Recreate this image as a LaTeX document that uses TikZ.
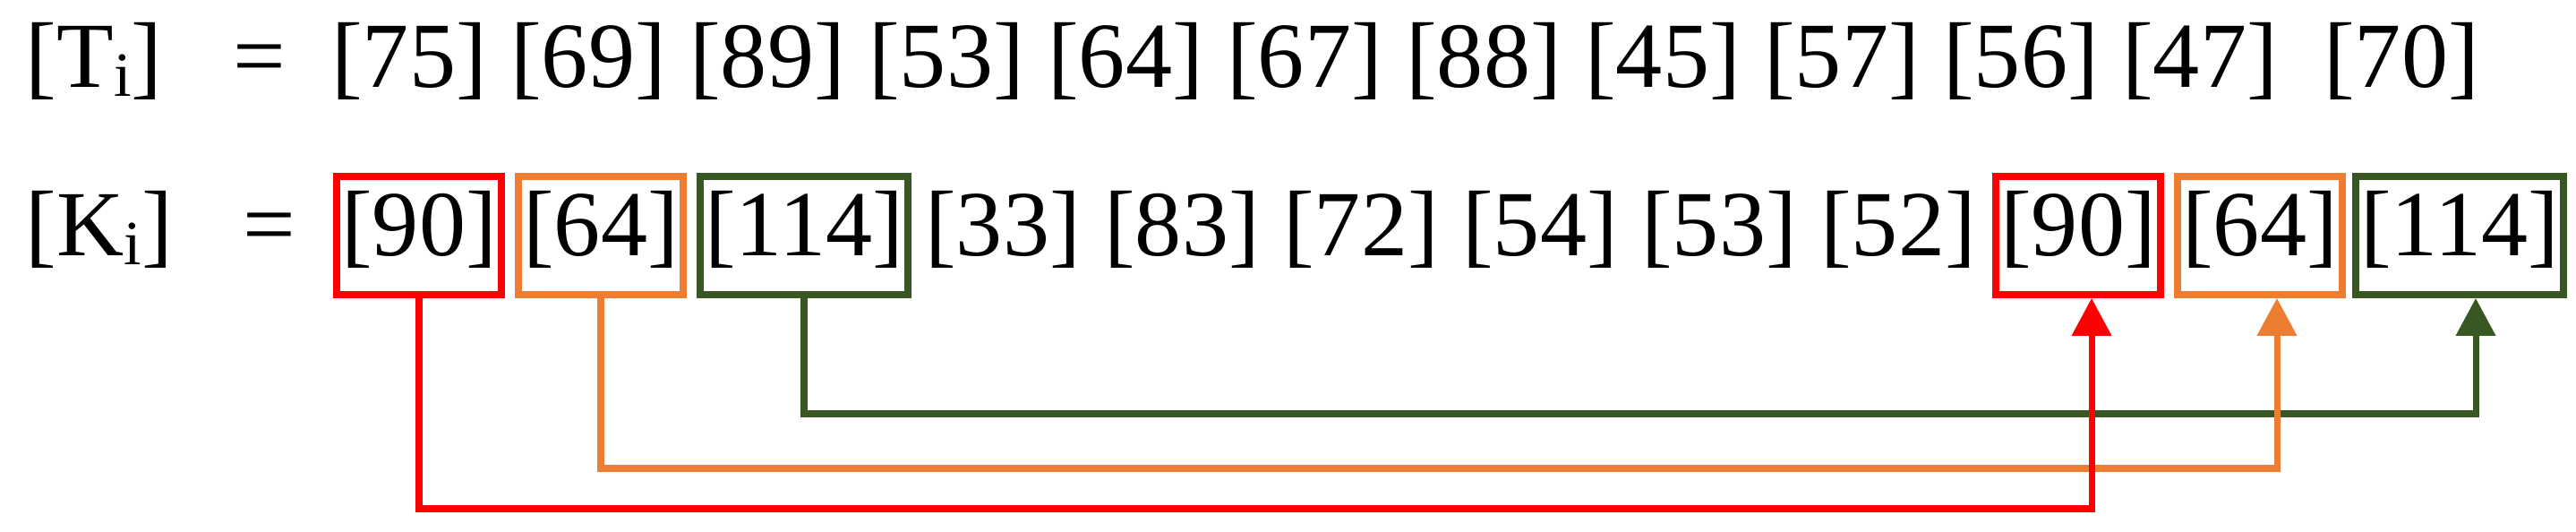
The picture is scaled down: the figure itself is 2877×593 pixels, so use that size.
\documentclass[tikz,border=0pt]{standalone}
\usepackage{fontspec}
\setmainfont{Liberation Serif}
\usetikzlibrary{arrows.meta}
\definecolor{kred}{HTML}{FF0000}
\definecolor{korange}{HTML}{ED7D31}
\definecolor{kgreen}{HTML}{385723}
\newcommand{\subi}{\raisebox{-0.1em}{\fontsize{20pt}{20pt}\selectfont i}}
\tikzset{
  val/.style={anchor=base, inner sep=0pt, font=\fontsize{29.6pt}{36pt}\selectfont},
  boxed/.style={val, draw=#1, line width=2.2pt, inner xsep=0.05cm, text height=0.88cm, text depth=0.44cm},
  link/.style={draw=#1, line width=2pt, -{Triangle[length=0.42cm,width=0.43cm]}}
}
\begin{document}
\begin{tikzpicture}[x=0.01cm, y=0.01cm]
\useasboundingbox (0,0) rectangle (2877,593);
% first row
\node[val] (tlab) at (105,496) {[T\subi]};
\node[val] (teq) at (290,496) {=};
\node[val] (t0) at (457,496) {[75]};
\node[val] (t1) at (657,496) {[69]};
\node[val] (t2) at (857,496) {[89]};
\node[val] (t3) at (1057,496) {[53]};
\node[val] (t4) at (1257,496) {[64]};
\node[val] (t5) at (1457,496) {[67]};
\node[val] (t6) at (1657,496) {[88]};
\node[val] (t7) at (1857,496) {[45]};
\node[val] (t8) at (2057,496) {[57]};
\node[val] (t9) at (2257,496) {[56]};
\node[val] (t10) at (2457,496) {[47]};
\node[val] (t11) at (2682,496) {[70]};
% second row
\node[val] (klab) at (111,308) {[K\subi]};
\node[val] (keq) at (301,308) {=};
\node[boxed=kred] (k0) at (468,308) {[90]};
\node[boxed=korange] (k1) at (671,308) {[64]};
\node[boxed=kgreen] (k2) at (898,308) {[114]};
\node[val] (k3) at (1120,308) {[33]};
\node[val] (k4) at (1320,308) {[83]};
\node[val] (k5) at (1520,308) {[72]};
\node[val] (k6) at (1720,308) {[54]};
\node[val] (k7) at (1920,308) {[53]};
\node[val] (k8) at (2120,308) {[52]};
\node[boxed=kred] (k9) at (2321,308) {[90]};
\node[boxed=korange] (k10) at (2524,308) {[64]};
\node[boxed=kgreen] (k11) at (2747,308) {[114]};
% links
\draw[link=kgreen](k2.south) -- (k2.south |- 0,131) -| ([xshift=0.18cm]k11.south);
\draw[link=korange](k1.south) -- (k1.south |- 0,70) -| ([xshift=0.19cm]k10.south);
\draw[link=kred](k0.south) -- (k0.south |- 0,25) -| ([xshift=0.15cm]k9.south);
\end{tikzpicture}
\end{document}
